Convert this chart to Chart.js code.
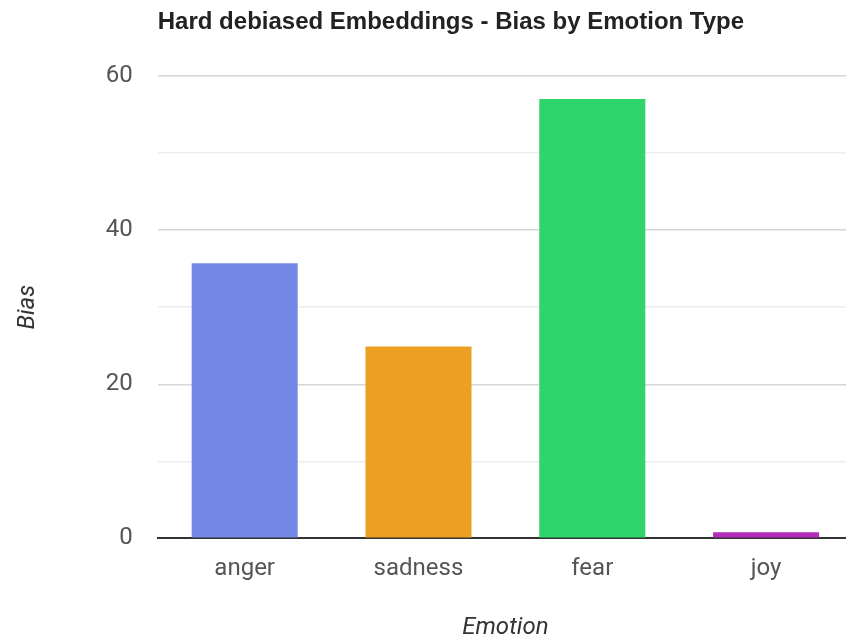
<!DOCTYPE html>
<html>
<head>
<meta charset="utf-8">
<script src="https://cdn.jsdelivr.net/npm/chart.js@4"></script>
<style>
  html, body { margin: 0; padding: 0; background: #fff; }
  #wrap { width: 846px; height: 642px; overflow: hidden; position: relative; }
</style>
</head>
<body>
<div id="wrap">
  <canvas id="emotion_bias" width="860" height="642"></canvas>
</div>
<script>
/* Bias per emotion, hard debiased embeddings */
var chart_title = "Hard debiased Embeddings - Bias by Emotion Type";
var emotions = ["anger", "sadness", "fear", "joy"];
var bias_values = [35.7, 24.9, 57.0, 0.8];
var bar_colors = ["#7588e6", "#eb9f23", "#2dd56b", "#b52cbb"];
var y_ticks = [0, 20, 40, 60];

/* Title drawn flush with the left edge of the plot area */
const leftTitle = {
  id: 'leftTitle',
  afterDraw(chart) {
    const c = chart.ctx;
    c.save();
    c.font = 'bold 24px "Liberation Sans"';
    c.fillStyle = '#222';
    c.textBaseline = 'middle';
    c.fillText(chart_title, chart.chartArea.left, 22);
    c.restore();
  }
};

const ctx = document.getElementById('emotion_bias');

const chart = new Chart(ctx, {
  type: 'bar',
  data: {
    labels: emotions,
    datasets: [{
      data: bias_values,
      backgroundColor: bar_colors,
      borderWidth: 0,
      categoryPercentage: 1.0,
      barPercentage: 0.61
    }]
  },
  plugins: [leftTitle],
  options: {
    responsive: false,
    animation: false,
    events: [],
    layout: {padding: {top: 76, left: 4, right: 7, bottom: 0}},
    plugins: {legend: {display: false}, title: {display: false}, tooltip: {enabled: false}},
    scales: {
      x: {
        grid: {display: false},
        border: {display: true, color: '#333', width: 2},
        ticks: {color: '#555', padding: 8, font: {family: 'Roboto', size: 24}},
        title: {
          display: true, text: 'Emotion', color: '#333',
          font: {family: 'Roboto', size: 24, style: 'italic'},
          padding: {top: 22, bottom: 0}
        }
      },
      y: {
        min: 0,
        max: 60,
        border: {display: false},
        grid: {
          drawTicks: false,
          color: (c) => c.tick.value === 0 ? '#333' : (y_ticks.includes(c.tick.value) ? '#d6d6d6' : '#ededed'),
          lineWidth: (c) => c.tick.value === 0 ? 2 : 1.5
        },
        ticks: {
          stepSize: 10,
          padding: 25,
          color: '#555',
          font: {family: 'Roboto', size: 24},
          callback: (v) => y_ticks.includes(v) ? v : ''
        },
        title: {
          display: true, text: 'Bias', color: '#333',
          font: {family: 'Roboto', size: 24, style: 'italic'},
          padding: {top: 10, bottom: 38}
        }
      }
    }
  }
});
</script>
</body>
</html>
